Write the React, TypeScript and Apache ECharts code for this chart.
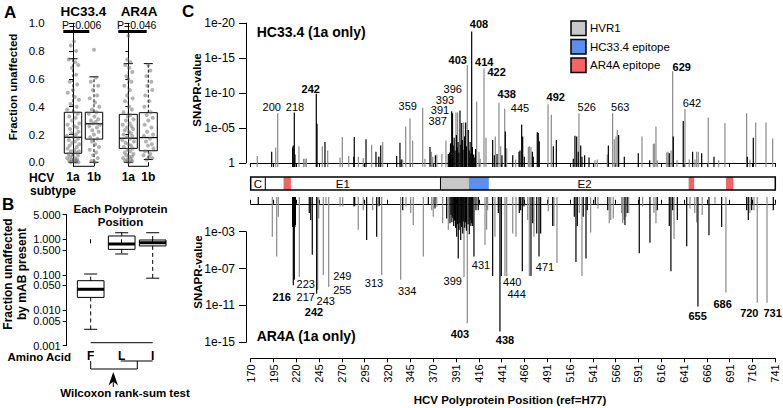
import React, { useEffect, useRef } from "react";
import * as echarts from "echarts";

const FONT = '"Liberation Sans", Arial, Helvetica, sans-serif';
const BLACK = "#000000";
const GRAY = "#8a8a8a";
const HVR_COLOR = "#c8c8c8";
const BLUE = "#5b8ef0";
const RED = "#f26363";

// ---------- Panel A ----------
const subtypeLabels = ["1a", "1b"];
// [min, q1, median, q3, max]
const hc334Boxes = [
  [0.0, 0.065, 0.18, 0.36, 0.745],
  [0.0, 0.167, 0.277, 0.36, 0.615],
];
const ar4aBoxes = [
  [0.0, 0.1, 0.173, 0.345, 0.71],
  [0.02, 0.083, 0.178, 0.357, 0.71],
];
// [jitter offset, fraction]
const hc334Pts1a = [
  [0.05, 0.87], [-0.1, 0.84], [0.15, 0.8], [-0.2, 0.74], [0.1, 0.72], [0.25, 0.7], [-0.05, 0.68], [0.15, 0.63],
  [-0.15, 0.58], [0.2, 0.56], [0.0, 0.52], [-0.25, 0.5], [0.08, 0.47], [0.28, 0.45], [-0.12, 0.42], [0.18, 0.4],
  [-0.28, 0.38], [0.04, 0.36], [0.22, 0.35], [-0.18, 0.33], [0.12, 0.32], [-0.04, 0.3], [0.3, 0.28], [-0.26, 0.27],
  [0.06, 0.26], [0.2, 0.25], [-0.14, 0.24], [0.26, 0.22], [-0.08, 0.21], [0.14, 0.2], [-0.3, 0.19], [0.02, 0.18],
  [0.24, 0.17], [-0.2, 0.16], [0.1, 0.15], [-0.04, 0.14], [0.3, 0.13], [-0.16, 0.12], [0.18, 0.11], [-0.26, 0.1],
  [0.06, 0.09], [0.28, 0.08], [-0.1, 0.08], [0.14, 0.07], [-0.22, 0.06], [0.0, 0.05], [0.24, 0.05], [-0.14, 0.04],
  [0.1, 0.03], [-0.28, 0.03], [0.2, 0.02], [-0.06, 0.02], [0.16, 0.01], [-0.18, 0.01], [0.04, 0.01], [-0.1, 0.0],
  [0.12, 0.0], [0.26, 0.0],
];
const hc334Pts1b = [
  [0.0, 0.81], [0.1, 0.61], [-0.15, 0.58], [0.2, 0.55], [-0.05, 0.52], [0.15, 0.48], [-0.2, 0.46], [0.05, 0.43],
  [0.25, 0.4], [-0.1, 0.38], [0.12, 0.36], [-0.25, 0.35], [0.02, 0.33], [0.2, 0.31], [-0.15, 0.3], [0.08, 0.29],
  [-0.05, 0.28], [0.28, 0.27], [-0.22, 0.26], [0.14, 0.25], [-0.08, 0.23], [0.22, 0.22], [0.0, 0.2], [-0.18, 0.18],
  [0.16, 0.17], [-0.1, 0.15], [0.06, 0.13], [0.24, 0.11], [-0.2, 0.09], [0.1, 0.07], [-0.04, 0.05], [0.18, 0.03],
  [-0.12, 0.01], [0.04, 0.0],
];
const ar4aPts1a = [
  [0.0, 0.91], [-0.05, 0.74], [0.1, 0.72], [-0.15, 0.7], [0.05, 0.68], [0.2, 0.65], [-0.1, 0.62], [0.0, 0.6],
  [0.15, 0.58], [-0.2, 0.55], [0.08, 0.52], [-0.06, 0.48], [0.22, 0.46], [-0.16, 0.44], [0.04, 0.4], [0.18, 0.38],
  [-0.24, 0.36], [0.1, 0.34], [-0.02, 0.33], [0.26, 0.31], [-0.12, 0.3], [0.06, 0.28], [-0.28, 0.27], [0.16, 0.26],
  [-0.06, 0.25], [0.24, 0.24], [-0.18, 0.23], [0.02, 0.22], [0.12, 0.21], [-0.24, 0.2], [0.2, 0.19], [-0.08, 0.18],
  [0.08, 0.17], [-0.3, 0.16], [0.28, 0.15], [-0.14, 0.14], [0.0, 0.13], [0.14, 0.12], [-0.22, 0.11], [0.22, 0.1],
  [-0.04, 0.09], [0.1, 0.08], [-0.18, 0.07], [0.26, 0.06], [-0.1, 0.05], [0.04, 0.04], [0.18, 0.04], [-0.26, 0.03],
  [0.12, 0.02], [-0.06, 0.02], [0.2, 0.01], [-0.16, 0.01], [0.02, 0.0],
];
const ar4aPts1b = [
  [0.0, 0.7], [0.1, 0.66], [-0.1, 0.62], [0.15, 0.58], [-0.05, 0.55], [0.2, 0.52], [-0.15, 0.48], [0.05, 0.44],
  [-0.2, 0.4], [0.12, 0.36], [-0.08, 0.34], [0.22, 0.32], [0.0, 0.3], [-0.18, 0.27], [0.16, 0.25], [-0.06, 0.22],
  [0.24, 0.2], [-0.22, 0.19], [0.08, 0.17], [-0.12, 0.15], [0.18, 0.13], [-0.02, 0.12], [0.26, 0.1], [-0.16, 0.08],
  [0.1, 0.06], [-0.24, 0.05], [0.04, 0.04], [0.2, 0.03], [-0.08, 0.02],
];

// ---------- Panel B ----------
const aminoAcids = ["F", "L", "I"];
const aaBoxes = [
  [0.0029, 0.023, 0.039, 0.068, 0.105],
  [0.385, 0.52, 0.737, 1.24, 1.53],
  [0.08, 0.65, 0.8, 0.955, 1.53],
];
const bTickValues = [0.001, 0.005, 0.01, 0.05, 0.1, 0.5, 1, 5];

// ---------- Panel C ----------
const posTickLabels = [
  "170", "195", "220", "245", "270", "295", "320", "345", "370", "391", "416", "441",
  "466", "491", "516", "541", "566", "591", "616", "641", "666", "691", "716", "741",
];
const topTickValues = [0, 5, 10, 15, 20]; // -log10(p)
const botTickValues = [3, 7, 11, 15];

// [alignment position, -log10 SNAPR p-value]
const topBlackBars = [
  [193.0, 1.6], [216.0, 2.2], [216.6, 2.5], [217.8, 7.2], [218.5, 1.2], [241.9, 9.9], [242.7, 5.6], [251.4, 3.0],
  [283.0, 0.9], [283.5, 3.7], [296.4, 3.4], [307.3, 1.6], [310.5, 0.9], [312.5, 2.5], [330.0, 1.0], [333.6, 2.9],
  [335.0, 0.5], [366.5, 2.3], [372.4, 1.1], [386.6, 1.3],
  [388.0, 1.5], [389.0, 2.8], [390.3, 7.4], [391.2, 7.1], [392.0, 2.5], [393.0, 3.6], [394.0, 1.8], [395.5, 4.0],
  [396.3, 2.2], [397.3, 3.0], [398.2, 1.5], [399.4, 7.5], [400.3, 2.6], [401.3, 5.7], [402.0, 3.3], [402.7, 1.9],
  [404.4, 3.8], [405.6, 5.8], [406.4, 2.4], [408.5, 4.7], [409.5, 1.8], [410.5, 3.0], [411.3, 1.4], [412.2, 18.8],
  [413.0, 2.3], [414.4, 1.2], [415.5, 0.8], [416.5, 2.0],
  [435.2, 3.3], [437.0, 1.1], [440.0, 1.3], [445.4, 1.1], [449.1, 4.5], [457.2, 1.1], [464.1, 1.6], [465.2, 1.8],
  [467.0, 5.5], [468.1, 3.8], [469.9, 0.9], [478.7, 1.6], [479.7, 0.9], [484.1, 4.4], [485.2, 4.3], [486.3, 3.1],
  [501.7, 2.4], [505.0, 3.3], [523.6, 0.6], [525.4, 3.9], [527.3, 3.8], [529.0, 1.6], [531.7, 2.5], [533.1, 0.9],
  [536.0, 1.1], [540.8, 0.8], [562.0, 2.5], [573.3, 4.0], [579.5, 0.9], [594.8, 1.4], [607.3, 0.4], [628.8, 1.4],
  [633.2, 3.8], [644.1, 6.0], [654.4, 1.6], [664.3, 1.4], [677.8, 0.9], [714.3, 0.9], [720.9, 3.6],
];
const topGrayBars = [
  [177.2, 1.0], [197.4, 2.2], [199.6, 7.1], [222.9, 2.4], [228.0, 0.6], [229.5, 0.6], [231.0, 0.6], [248.5, 2.4],
  [254.4, 1.8], [267.9, 0.8], [270.4, 3.7], [277.4, 1.0], [288.0, 0.9], [293.4, 0.7], [302.6, 2.6], [310.0, 0.9],
  [314.7, 3.0], [336.5, 0.5], [339.9, 5.2], [344.6, 6.4], [347.5, 3.2], [358.5, 7.9], [361.0, 0.6], [368.0, 1.6],
  [369.5, 0.9], [374.0, 1.2], [379.5, 1.3], [384.0, 3.2], [395.0, 7.2], [396.8, 7.2], [403.4, 5.8], [407.4, 14.0],
  [410.0, 0.7], [417.7, 8.8], [420.2, 1.6], [421.5, 0.6], [425.7, 13.5], [427.9, 3.6], [438.1, 3.8], [442.1, 8.6],
  [444.0, 2.4], [448.4, 7.8], [450.6, 2.1], [460.4, 0.5], [474.3, 2.3], [475.4, 2.4], [477.2, 2.3], [495.9, 8.4],
  [499.5, 6.9], [529.8, 7.1], [547.4, 0.4], [549.9, 0.5], [560.9, 1.2], [566.7, 7.1], [568.5, 3.4], [570.4, 3.8],
  [571.8, 4.7], [598.9, 3.8], [611.3, 2.7], [612.4, 2.8], [614.2, 5.2], [615.7, 0.4], [626.0, 1.5], [627.4, 1.6],
  [630.7, 1.8], [632.5, 13.1], [637.2, 0.4], [646.0, 7.7], [650.7, 0.5], [657.0, 0.5], [658.8, 1.6], [660.6, 1.6],
  [671.5, 6.5], [682.9, 0.4], [689.8, 5.7], [713.6, 7.1], [717.2, 0.5], [723.5, 5.8], [734.8, 5.8], [742.1, 3.5],
];
const botBlackBars = [
  [178.3, 0.13], [215.9, 2.5], [216.3, 2.4], [216.7, 8.8], [217.3, 2.6], [217.8, 8.2], [218.4, 2.5], [219.0, 2.3],
  [234.2, 1.0], [235.8, 1.75], [237.5, 5.5], [242.3, 9.7], [283.2, 0.3], [284.0, 0.2], [297.1, 3.9], [308.1, 3.55],
  [311.0, 0.2], [336.6, 0.7], [364.7, 0.13], [372.0, 0.5], [384.8, 1.6], [388.4, 2.1],
  [389.5, 1.2], [390.5, 2.0], [391.5, 1.5], [392.5, 2.4], [393.5, 1.8], [394.5, 2.6], [395.8, 3.55], [396.6, 2.2],
  [397.5, 5.9], [398.4, 2.8], [399.3, 2.1], [400.2, 3.9], [401.2, 2.5], [402.4, 3.2], [403.0, 1.9], [404.6, 2.6],
  [405.5, 2.0], [406.4, 2.9], [408.3, 2.2], [409.6, 3.3], [410.5, 1.7], [411.3, 2.4], [412.2, 2.1], [413.3, 2.4],
  [414.7, 5.7], [416.9, 0.7], [419.4, 0.7],
  [435.2, 7.8], [441.4, 1.0], [443.2, 13.8], [444.7, 7.8], [464.4, 1.0], [465.9, 0.7], [467.7, 7.3], [469.5, 0.3],
  [477.2, 7.8], [479.1, 2.1], [483.5, 3.2], [486.0, 5.7], [487.8, 3.2], [501.0, 2.4], [524.7, 1.4], [526.5, 6.3],
  [528.0, 2.4], [534.5, 1.4], [537.5, 5.9], [538.9, 0.7], [547.7, 0.13], [561.3, 0.7], [580.2, 2.3], [582.7, 1.0],
  [595.9, 5.35], [607.6, 4.2], [615.7, 0.7], [628.8, 2.4], [630.6, 7.3], [632.5, 0.7], [637.6, 1.75], [647.9, 4.6],
  [660.2, 11.1], [672.3, 3.4], [686.2, 2.5], [713.6, 0.7], [715.4, 1.75], [719.1, 0.7], [742.8, 0.7],
];
const botGrayBars = [
  [193.7, 3.55], [198.5, 5.7], [200.3, 1.4], [223.3, 7.9], [243.4, 9.3], [244.5, 1.6], [249.6, 7.7], [252.5, 0.0],
  [255.5, 9.0], [267.9, 0.3], [270.8, 0.3], [287.9, 2.8], [293.4, 0.7], [303.7, 0.7], [309.9, 0.3], [313.6, 7.7],
  [334.4, 8.2], [340.2, 0.3], [345.4, 1.0], [348.2, 2.3], [359.2, 5.7], [368.4, 0.7], [370.1, 1.4], [373.9, 0.3],
  [380.4, 2.1], [386.6, 2.8], [403.8, 7.9], [407.4, 12.9], [419.5, 0.3], [426.8, 4.45], [428.6, 2.8], [429.7, 0.7],
  [437.7, 3.55], [448.7, 7.8], [450.6, 7.8], [457.2, 3.2], [460.8, 3.55], [473.6, 1.75], [475.4, 7.8], [480.5, 3.55],
  [496.2, 0.8], [502.4, 2.4], [505.7, 6.4], [530.2, 1.0], [533.1, 7.8], [542.6, 3.1], [550.6, 0.5], [563.0, 2.1],
  [564.6, 1.75], [567.4, 1.6], [576.6, 1.0], [577.7, 2.1], [579.1, 1.75], [581.3, 1.4], [584.3, 1.0], [599.6, 0.3],
  [612.0, 1.0], [614.2, 2.1], [634.0, 3.8], [651.5, 0.5], [656.7, 1.0], [658.8, 2.0], [664.9, 1.2], [678.9, 0.0],
  [690.9, 9.6], [717.2, 1.0], [721.6, 0.7], [725.2, 10.7], [735.9, 10.7],
];
// [text, alignment position, -log10 p, bold]
const topLabels: [string, number, number, boolean][] = [
  ["200", 193.0, 7.96, false], ["218", 218.6, 8.04, false], ["242", 235.8, 10.57, true],
  ["359", 342.1, 8.19, false], ["396", 391.4, 10.55, false], ["393", 383.0, 9.05, false],
  ["391", 377.5, 7.55, false], ["387", 375.0, 5.95, false], ["403", 396.9, 14.71, true],
  ["408", 420.2, 19.86, true], ["414", 426.0, 14.39, true], ["422", 439.6, 12.96, true],
  ["438", 450.6, 9.81, true], ["445", 465.2, 7.81, false], ["492", 504.3, 9.39, true],
  ["526", 538.3, 7.96, false], ["563", 575.1, 7.96, false], ["629", 642.4, 13.76, true],
  ["642", 653.7, 8.53, false],
];
const botLabels: [string, number, number, boolean][] = [
  ["223", 230.3, 8.7, false], ["216", 204.0, 10.11, true], ["217", 230.3, 10.11, false],
  ["243", 252.2, 10.48, false], ["242", 239.4, 11.73, true], ["249", 270.4, 7.77, false],
  ["255", 270.4, 9.32, false], ["313", 305.1, 8.59, false], ["334", 341.6, 9.39, false],
  ["399", 391.4, 8.31, false], ["403", 399.4, 14.08, true], ["431", 422.4, 6.62, false],
  ["440", 456.7, 8.45, false], ["444", 461.5, 9.7, false], ["438", 448.7, 14.72, true],
  ["471", 492.6, 6.86, false], ["655", 659.9, 12.13, true], ["686", 687.3, 10.83, true],
  ["720", 716.5, 11.77, true], ["731", 742.1, 11.77, true],
];
// genome map regions [start, end]
const genomeRegions = [[170, 745], [206, 214], [378, 409], [409, 431], [650, 656], [691, 699]];
const genomeColors = ["#ffffff", RED, HVR_COLOR, BLUE, RED, RED];
const genomeBoundaries = [186, 378];
const genomeNames: [string, number][] = [["C", 178], ["E1", 271], ["E2", 536]];
const legendItems: [string, string][] = [["HVR1", HVR_COLOR], ["HC33.4 epitope", BLUE], ["AR4A epitope", RED]];

const TOP_BASE = -0.571;
const BOT_BASE = -0.735;

const pad2 = (v: number) => (v < 10 ? "0" + v : "" + v);

function boxRender(ratio: number, capRatio: number, medW: number, dash: number[]) {
  return (params: any, api: any) => {
    const i = api.value(0);
    const v = [1, 2, 3, 4, 5].map((k) => api.value(k));
    const c0 = api.coord([0, v[2]]);
    const c1 = api.coord([1, v[2]]);
    const band = Math.abs(c1[0] - c0[0]);
    const bw = band * ratio;
    const cw = band * capRatio;
    const cx = api.coord([i, v[2]])[0];
    const y = (val: number) => api.coord([i, val])[1];
    const ls = { stroke: BLACK, lineWidth: 1 };
    return {
      type: "group",
      children: [
        { type: "line", shape: { x1: cx, y1: y(v[3]), x2: cx, y2: y(v[4]) }, style: { ...ls, lineDash: dash } },
        { type: "line", shape: { x1: cx, y1: y(v[1]), x2: cx, y2: y(v[0]) }, style: { ...ls, lineDash: dash } },
        { type: "line", shape: { x1: cx - cw / 2, y1: y(v[4]), x2: cx + cw / 2, y2: y(v[4]) }, style: ls },
        { type: "line", shape: { x1: cx - cw / 2, y1: y(v[0]), x2: cx + cw / 2, y2: y(v[0]) }, style: ls },
        {
          type: "rect",
          shape: { x: cx - bw / 2, y: y(v[3]), width: bw, height: y(v[1]) - y(v[3]) },
          style: { fill: "none", stroke: BLACK, lineWidth: 1 },
        },
        { type: "line", shape: { x1: cx - bw / 2, y1: y(v[2]), x2: cx + bw / 2, y2: y(v[2]) }, style: { stroke: BLACK, lineWidth: medW } },
      ],
    };
  };
}

function barRender(base: number, color: string) {
  return (params: any, api: any) => {
    const x = api.value(0);
    const val = api.value(1);
    const a = api.coord([x, base]);
    const b = api.coord([x, val]);
    return {
      type: "rect",
      shape: { x: a[0] - 0.6, y: Math.min(a[1], b[1]), width: 1.2, height: Math.abs(b[1] - a[1]) },
      style: { fill: color },
    };
  };
}

function labelRender(list: [string, number, number, boolean][]) {
  return (params: any, api: any) => {
    const p = api.coord([api.value(0), api.value(1)]);
    const d = list[params.dataIndex];
    return {
      type: "text",
      x: p[0],
      y: p[1],
      style: {
        text: d[0], fill: BLACK, fontSize: 11, fontWeight: d[3] ? "bold" : "normal",
        fontFamily: FONT, align: "center", verticalAlign: "middle",
      },
    };
  };
}

const txt = (x: number, y: number, text: string, o: any = {}) => ({
  type: "text",
  x,
  y,
  rotation: o.rot || 0,
  style: {
    text, fill: BLACK, fontSize: o.size || 12, fontWeight: o.bold ? "bold" : "normal", fontFamily: FONT,
    align: o.align || "center", verticalAlign: "middle",
  },
});
const ln = (x1: number, y1: number, x2: number, y2: number, w = 1) => ({
  type: "line",
  shape: { x1, y1, x2, y2 },
  style: { stroke: BLACK, lineWidth: w },
});

const axisText = { color: BLACK, fontFamily: FONT };
const noSplit = { show: false };

function buildOption(): any {
  const gridBase = { containLabel: false, outerBoundsMode: "none" };
  const cLeft = 250.7;
  const cWidth = 524.6;
  const posAxis = (gridIndex: number, extra: any = {}) => ({
    type: "value", gridIndex, min: 170, max: 745, interval: 25, splitLine: noSplit, ...extra,
  });

  const graphic: any[] = [
    // panel letters
    txt(4, 12, "A", { bold: true, size: 17, align: "left" }),
    txt(2, 204, "B", { bold: true, size: 17, align: "left" }),
    txt(182, 11, "C", { bold: true, size: 17, align: "left" }),
    // panel A
    txt(83.3, 11.2, "HC33.4", { bold: true, size: 13.5 }),
    txt(139, 11.2, "AR4A", { bold: true, size: 13.5 }),
    txt(81.7, 24.6, "P=0.006", { size: 10.5 }),
    txt(136.7, 24.6, "P=0.046", { size: 10.5 }),
    ln(63.3, 31.5, 89.3, 31.5, 3),
    ln(118.3, 31.5, 146.7, 31.5, 3),
    txt(13.3, 87, "Fraction unaffected", { bold: true, size: 11.5, rot: Math.PI / 2 }),
    ln(73, 166.3, 94, 166.3),
    ln(128.3, 166.3, 148.3, 166.3),
    txt(41.7, 177.7, "HCV", { bold: true }),
    txt(53, 191, "subtype", { bold: true }),
    // panel B
    txt(120.5, 209.3, "Each Polyprotein", { bold: true, size: 11.5 }),
    txt(120.5, 222.3, "Position", { bold: true, size: 11.5 }),
    txt(8.3, 274, "Fraction unaffected", { bold: true, rot: Math.PI / 2 }),
    txt(21.7, 274, "by mAB present", { bold: true, rot: Math.PI / 2 }),
    ln(90.7, 342.7, 152.7, 342.7),
    txt(39.2, 356.5, "Amino Acid", { bold: true, size: 11.5 }),
    { type: "polyline", shape: { points: [[90.7, 361], [90.7, 369], [137.3, 369], [137.3, 361]] }, style: { stroke: BLACK, lineWidth: 1, fill: "none" } },
    ln(120.7, 361, 152.7, 361),
    { type: "polygon", shape: { points: [[113.3, 372], [108.6, 385.5], [113.3, 381.5], [118, 385.5]] }, style: { fill: BLACK } },
    ln(113.3, 381, 113.3, 387),
    txt(125, 393, "Wilcoxon rank-sum test", { bold: true, size: 11.5 }),
    // panel C
    txt(256.7, 31.7, "HC33.4 (1a only)", { bold: true, size: 14, align: "left" }),
    txt(256.7, 335.7, "AR4A (1a only)", { bold: true, size: 14, align: "left" }),
    txt(196.7, 90, "SNAPR-value", { bold: true, size: 11.5, rot: Math.PI / 2 }),
    txt(198, 272, "SNAPR-value", { bold: true, size: 11.5, rot: Math.PI / 2 }),
    txt(510, 400, "HCV Polyprotein Position (ref=H77)", { bold: true, size: 11.5 }),
  ];
  legendItems.forEach((it, i) => {
    const y0 = 21 + i * 18.5;
    graphic.push({ type: "rect", shape: { x: 571, y: y0, width: 15, height: 14.5 }, style: { fill: it[1], stroke: BLACK, lineWidth: 1.5 } });
    graphic.push(txt(590, y0 + 7.3, it[0], { size: 11.5, align: "left" }));
  });

  return {
    animation: false,
    backgroundColor: "#ffffff",
    textStyle: { fontFamily: FONT },
    grid: [
      { ...gridBase, left: 62.5, top: 23.3, width: 42, height: 139 },
      { ...gridBase, left: 118.3, top: 23.3, width: 40, height: 139 },
      { ...gridBase, left: 75.2, top: 214.5, width: 93, height: 131.2 },
      { ...gridBase, left: cLeft, top: 23, width: cWidth, height: 140 },
      { ...gridBase, left: cLeft, top: 23, width: cWidth, height: 144 },
      { ...gridBase, left: cLeft, top: 177, width: cWidth, height: 13 },
      { ...gridBase, left: cLeft, top: 197, width: cWidth, height: 161.3 },
      { ...gridBase, left: cLeft, top: 231.7, width: cWidth, height: 110.6 },
    ],
    xAxis: [
      {
        type: "category", gridIndex: 0, data: subtypeLabels, position: "bottom", offset: 4,
        axisLine: { show: false }, axisTick: { show: true, alignWithLabel: true, length: 4, lineStyle: { color: BLACK } },
        axisLabel: { ...axisText, fontWeight: "bold", fontSize: 12, margin: 5 },
      },
      { type: "value", gridIndex: 0, min: -0.5, max: 1.5, show: false, position: "top", splitLine: noSplit },
      {
        type: "category", gridIndex: 1, data: subtypeLabels, position: "bottom", offset: 4,
        axisLine: { show: false }, axisTick: { show: true, alignWithLabel: true, length: 4, lineStyle: { color: BLACK } },
        axisLabel: { ...axisText, fontWeight: "bold", fontSize: 12, margin: 5 },
      },
      { type: "value", gridIndex: 1, min: -0.5, max: 1.5, show: false, position: "top", splitLine: noSplit },
      {
        type: "category", gridIndex: 2, data: aminoAcids, position: "bottom", offset: -3,
        axisLine: { show: false }, axisTick: { show: true, alignWithLabel: true, length: 4, lineStyle: { color: BLACK } },
        axisLabel: { ...axisText, fontWeight: "bold", fontSize: 12, margin: 7 },
      },
      posAxis(3, { show: false }),
      posAxis(4, {
        position: "bottom",
        axisLine: { show: true, lineStyle: { color: BLACK } },
        axisTick: { show: true, length: 4, lineStyle: { color: BLACK } },
        axisLabel: { show: false },
      }),
      posAxis(5, { show: false }),
      posAxis(6, {
        position: "top",
        axisLine: { show: true, lineStyle: { color: BLACK } },
        axisTick: { show: true, length: 4, lineStyle: { color: BLACK } },
        axisLabel: { show: false },
      }),
      posAxis(6, {
        position: "bottom",
        axisLine: { show: true, lineStyle: { color: BLACK } },
        axisTick: { show: true, length: 4, lineStyle: { color: BLACK } },
        axisLabel: {
          ...axisText, fontSize: 11, rotate: 90, margin: 6,
          formatter: (v: number) => posTickLabels[Math.round((v - 170) / 25)] || "",
        },
      }),
      posAxis(7, { show: false }),
    ],
    yAxis: [
      {
        type: "value", gridIndex: 0, position: "left", min: 0, max: 1, interval: 0.2, offset: 11.8, splitLine: noSplit,
        axisLine: { show: true, lineStyle: { color: BLACK } },
        axisTick: { show: true, length: 4, lineStyle: { color: BLACK } },
        axisLabel: { ...axisText, fontSize: 11.5, margin: 6, formatter: (v: number) => v.toFixed(1) },
      },
      {
        type: "value", gridIndex: 1, position: "left", min: 0, max: 1, interval: 0.2, offset: 7.3, splitLine: noSplit,
        axisLine: { show: true, lineStyle: { color: BLACK } },
        axisTick: { show: true, length: 3, lineStyle: { color: BLACK } },
        axisLabel: { show: false },
      },
      { type: "log", logBase: 10, gridIndex: 2, position: "right", min: 0.001, max: 5, show: false, splitLine: noSplit },
      {
        type: "value", gridIndex: 2, position: "left", min: Math.log10(0.001), max: Math.log10(5), offset: 8.5, splitLine: noSplit,
        axisLine: { show: true, lineStyle: { color: BLACK } },
        axisTick: { show: true, length: 4, lineStyle: { color: BLACK }, customValues: bTickValues.map((v) => Math.log10(v)) },
        axisLabel: {
          ...axisText, fontSize: 11, margin: 6,
          customValues: bTickValues.map((v) => Math.log10(v)),
          formatter: (v: number) => Math.pow(10, v).toFixed(3),
        },
      },
      {
        type: "value", gridIndex: 3, position: "left", min: 0, max: 20, interval: 5, offset: 4.7, splitLine: noSplit,
        axisLine: { show: true, lineStyle: { color: BLACK } },
        axisTick: { show: true, length: 7, lineStyle: { color: BLACK } },
        axisLabel: { ...axisText, fontSize: 12, margin: 11, formatter: (v: number) => (v === 0 ? "1" : "1e-" + pad2(v)) },
      },
      { type: "value", gridIndex: 4, min: TOP_BASE, max: 20, show: false, splitLine: noSplit },
      { type: "value", gridIndex: 5, min: 0, max: 1, show: false, splitLine: noSplit },
      { type: "value", gridIndex: 6, min: BOT_BASE, max: 16.7, inverse: true, show: false, splitLine: noSplit },
      {
        type: "value", gridIndex: 7, position: "left", min: 3, max: 15, inverse: true, offset: 4.7, splitLine: noSplit,
        axisLine: { show: true, lineStyle: { color: BLACK } },
        axisTick: { show: true, length: 7, lineStyle: { color: BLACK }, customValues: botTickValues },
        axisLabel: { ...axisText, fontSize: 12, margin: 11, customValues: botTickValues, formatter: (v: number) => "1e-" + pad2(v) },
      },
    ],
    series: [
      {
        type: "custom", xAxisIndex: 0, yAxisIndex: 0, clip: false, encode: { x: 0, y: [1, 2, 3, 4, 5] },
        data: hc334Boxes.map((b, i) => [i, ...b]), renderItem: boxRender(0.83, 0.43, 1.3, [3, 2]),
      },
      {
        type: "scatter", xAxisIndex: 1, yAxisIndex: 0, symbolSize: 4, silent: true,
        itemStyle: { color: "#666666", opacity: 0.5 },
        data: [...hc334Pts1a.map((p) => [0 + p[0], p[1]]), ...hc334Pts1b.map((p) => [1 + p[0], p[1]])],
      },
      {
        type: "custom", xAxisIndex: 2, yAxisIndex: 1, clip: false, encode: { x: 0, y: [1, 2, 3, 4, 5] },
        data: ar4aBoxes.map((b, i) => [i, ...b]), renderItem: boxRender(0.9, 0.45, 1.3, [3, 2]),
      },
      {
        type: "scatter", xAxisIndex: 3, yAxisIndex: 1, symbolSize: 4, silent: true,
        itemStyle: { color: "#666666", opacity: 0.5 },
        data: [...ar4aPts1a.map((p) => [0 + p[0], p[1]]), ...ar4aPts1b.map((p) => [1 + p[0], p[1]])],
      },
      {
        type: "custom", xAxisIndex: 4, yAxisIndex: 2, clip: false, encode: { x: 0, y: [1, 2, 3, 4, 5] },
        data: aaBoxes.map((b, i) => [i, ...b]), renderItem: boxRender(0.86, 0.42, 3, [4, 3]),
      },
      { type: "custom", xAxisIndex: 6, yAxisIndex: 5, clip: false, encode: { x: 0, y: 1 }, data: topGrayBars, renderItem: barRender(TOP_BASE, GRAY) },
      { type: "custom", xAxisIndex: 6, yAxisIndex: 5, clip: false, encode: { x: 0, y: 1 }, data: topBlackBars, renderItem: barRender(TOP_BASE, BLACK) },
      {
        type: "custom", xAxisIndex: 6, yAxisIndex: 5, clip: false, encode: { x: 0, y: 1 },
        data: topLabels.map((d) => [d[1], d[2]]), renderItem: labelRender(topLabels),
      },
      {
        type: "custom", xAxisIndex: 7, yAxisIndex: 6, clip: false, encode: { x: [0, 1] },
        data: genomeRegions,
        renderItem: (params: any, api: any) => {
          const a = api.coord([api.value(0), 1]);
          const b = api.coord([api.value(1), 0]);
          return { type: "rect", shape: { x: a[0], y: a[1], width: b[0] - a[0], height: b[1] - a[1] }, style: { fill: genomeColors[params.dataIndex] } };
        },
      },
      {
        type: "custom", xAxisIndex: 7, yAxisIndex: 6, clip: false, encode: { x: 0 },
        data: genomeBoundaries.map((v) => [v]),
        renderItem: (params: any, api: any) => {
          const a = api.coord([api.value(0), 1]);
          const b = api.coord([api.value(0), 0]);
          return { type: "line", shape: { x1: a[0], y1: a[1], x2: b[0], y2: b[1] }, style: { stroke: BLACK, lineWidth: 1 } };
        },
      },
      {
        type: "custom", xAxisIndex: 7, yAxisIndex: 6, clip: false, encode: { x: [0, 1] },
        data: [genomeRegions[0]],
        renderItem: (params: any, api: any) => {
          const a = api.coord([api.value(0), 1]);
          const b = api.coord([api.value(1), 0]);
          return { type: "rect", shape: { x: a[0], y: a[1], width: b[0] - a[0], height: b[1] - a[1] }, style: { fill: "none", stroke: BLACK, lineWidth: 1.5 } };
        },
      },
      {
        type: "custom", xAxisIndex: 7, yAxisIndex: 6, clip: false, encode: { x: 0 },
        data: genomeNames.map((g) => [g[1], 0.5]),
        renderItem: (params: any, api: any) => {
          const p = api.coord([api.value(0), api.value(1)]);
          return {
            type: "text", x: p[0], y: p[1],
            style: { text: genomeNames[params.dataIndex][0], fill: BLACK, fontSize: 11.5, fontFamily: FONT, align: "center", verticalAlign: "middle" },
          };
        },
      },
      { type: "custom", xAxisIndex: 9, yAxisIndex: 7, clip: false, encode: { x: 0, y: 1 }, data: botGrayBars, renderItem: barRender(BOT_BASE, GRAY) },
      { type: "custom", xAxisIndex: 9, yAxisIndex: 7, clip: false, encode: { x: 0, y: 1 }, data: botBlackBars, renderItem: barRender(BOT_BASE, BLACK) },
      {
        type: "custom", xAxisIndex: 9, yAxisIndex: 7, clip: false, encode: { x: 0, y: 1 },
        data: botLabels.map((d) => [d[1], d[2]]), renderItem: labelRender(botLabels),
      },
    ],
    graphic,
  };
}

export default function App() {
  const ref = useRef<HTMLDivElement>(null);
  useEffect(() => {
    document.body.style.margin = "0";
    const chart = echarts.init(ref.current as HTMLDivElement, undefined, { renderer: "svg" });
    chart.setOption(buildOption());
    return () => chart.dispose();
  }, []);
  return <div ref={ref} style={{ width: 783, height: 408, background: "#fff" }} />;
}
